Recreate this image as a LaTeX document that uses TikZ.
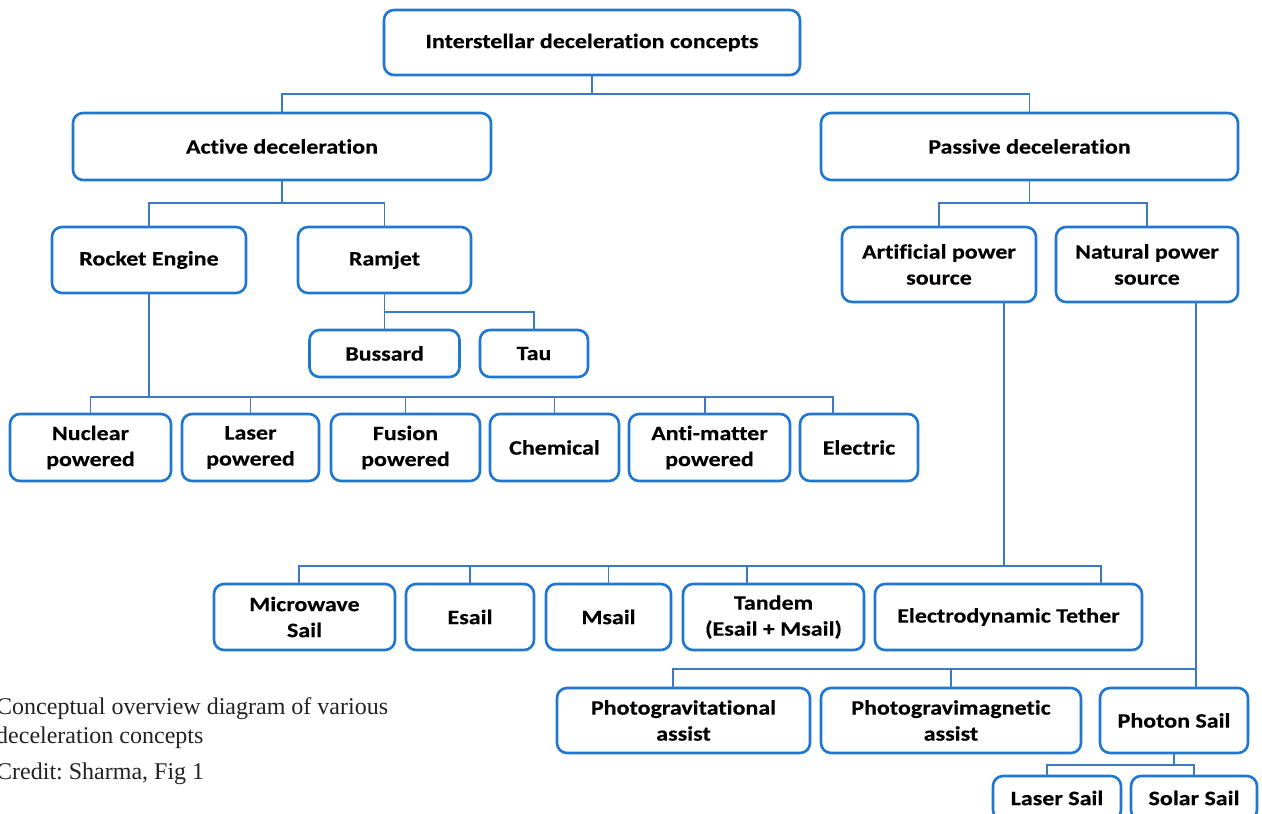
\documentclass[tikz,border=0pt]{standalone}
\usepackage{fontspec}
\setmainfont{Carlito}
\newfontfamily\boxfont{Carlito}[FakeStretch=1.17, Ligatures=NoCommon, BoldFeatures={FakeBold=0.3}]
\newfontfamily\capfont{Liberation Serif}
\definecolor{boxblue}{RGB}{31,119,210}
\definecolor{lineblue}{RGB}{60,122,200}
\definecolor{capgray}{RGB}{34,34,34}
\frenchspacing
\begin{document}
\begin{tikzpicture}[x=1pt,y=-1pt,
  box/.style={draw=boxblue, line width=2.6pt, rounded corners=10pt, fill=white,
    inner sep=0pt, outer sep=0pt, align=center, text=black,
    font=\boxfont\bfseries\fontsize{20.5}{26}\selectfont},
  link/.style={draw=lineblue, line width=1.3pt},
  captxt/.style={inner sep=0pt, anchor=base west, text=capgray,
    font=\capfont\fontsize{24}{29}\selectfont}]
\useasboundingbox (0,0) rectangle (1262,814);
\clip (0,0) rectangle (1262,814);

% level 0-1
\node[box, minimum width=416pt, minimum height=65pt] (top) at (592,42.5) {Interstellar deceleration concepts};
\node[box, minimum width=418pt, minimum height=67pt] (active) at (282,146.5) {Active deceleration};
\node[box, minimum width=417pt, minimum height=67pt] (passive) at (1029.5,146.5) {Passive deceleration};
% level 2
\node[box, minimum width=194pt, minimum height=66pt] (rocket) at (149,260) {Rocket Engine};
\node[box, minimum width=173pt, minimum height=66pt] (ramjet) at (384.5,260) {Ramjet};
\node[box, minimum width=194pt, minimum height=75pt] (artificial) at (939,264.5) {Artificial power\\source};
\node[box, minimum width=182pt, minimum height=75pt] (natural) at (1147,264.5) {Natural power\\source};
% ramjet children
\node[box, minimum width=150pt, minimum height=47pt] (bussard) at (384.5,353.5) {Bussard};
\node[box, minimum width=108pt, minimum height=47pt] (tau) at (534,353.5) {Tau};
% rocket children
\node[box, minimum width=161pt, minimum height=67pt] (nuclear) at (90.5,447.5) {Nuclear\\powered};
\node[box, minimum width=137pt, minimum height=67pt] (laser) at (250.5,447.5) {Laser\\powered};
\node[box, minimum width=149pt, minimum height=67pt] (fusion) at (405.5,447.5) {Fusion\\powered};
\node[box, minimum width=129pt, minimum height=67pt] (chemical) at (554.5,447.5) {Chemical};
\node[box, minimum width=161pt, minimum height=67pt] (anti) at (709.5,447.5) {Anti-matter\\powered};
\node[box, minimum width=118pt, minimum height=67pt] (electric) at (859,447.5) {Electric};
% artificial children
\node[box, minimum width=181pt, minimum height=66pt] (microwave) at (304.5,617) {Microwave\\Sail};
\node[box, minimum width=128pt, minimum height=66pt] (esail) at (470,617) {Esail};
\node[box, minimum width=125pt, minimum height=66pt] (msail) at (608.5,617) {Msail};
\node[box, minimum width=181pt, minimum height=66pt] (tandem) at (773.5,617) {Tandem\\(Esail + Msail)};
\node[box, minimum width=267pt, minimum height=66pt] (electro) at (1008.5,617) {Electrodynamic Tether};
% natural children
\node[box, minimum width=253pt, minimum height=65pt] (photograv) at (683.5,720.5) {Photogravitational\\assist};
\node[box, minimum width=260pt, minimum height=65pt] (photomag) at (951,720.5) {Photogravimagnetic\\assist};
\node[box, minimum width=148pt, minimum height=65pt] (photon) at (1174,720.5) {Photon Sail};
% photon children
\node[box, minimum width=128pt, minimum height=44pt] (lasersail) at (1057,798) {Laser Sail};
\node[box, minimum width=126pt, minimum height=44pt] (solarsail) at (1194,798) {Solar Sail};

% connectors
\coordinate (j1) at (592,94);
\draw[link] (top.south) -- (j1);
\draw[link] (active.north) |- (j1) -| (passive.north);

\coordinate (j2) at (282,203);
\draw[link] (active.south) -- (j2);
\draw[link] (rocket.north) |- (j2) -| (ramjet.north);

\coordinate (j3) at (1029.5,203);
\draw[link] (passive.south) -- (j3);
\draw[link] (artificial.north) |- (j3) -| (natural.north);

\coordinate (j4) at (384.5,312);
\draw[link] (ramjet.south) -- (j4);
\draw[link] (bussard.north) |- (j4) -| (tau.north);

\coordinate (j5) at (149,397);
\draw[link] (rocket.south) -- (j5);
\draw[link] (nuclear.north) |- (j5) -| ([xshift=-26pt]electric.north);
\draw[link] (laser.north) -- (laser.north |- j5);
\draw[link] (fusion.north) -- (fusion.north |- j5);
\draw[link] (chemical.north) -- (chemical.north |- j5);
\draw[link] ([xshift=-4.5pt]anti.north) -- ([xshift=-4.5pt]anti.north |- j5);

\coordinate (j6) at (1004,566);
\draw[link] ([xshift=65pt]artificial.south) -- (j6);
\draw[link] ([xshift=-5.5pt]microwave.north) |- (j6) -| ([xshift=92.5pt]electro.north);
\draw[link] (esail.north) -- (esail.north |- j6);
\draw[link] (msail.north) -- (msail.north |- j6);
\draw[link] ([xshift=-26.5pt]tandem.north) -- ([xshift=-26.5pt]tandem.north |- j6);

\draw[link] ([xshift=49pt]natural.south) -- ([xshift=22pt]photon.north);
\coordinate (j7) at (1196,669);
\draw[link] ([xshift=-10.5pt]photograv.north) |- (j7);
\draw[link] (photomag.north) -- (photomag.north |- j7);

\coordinate (j8) at (1174,765);
\draw[link] (photon.south) -- (j8);
\draw[link] ([xshift=-10pt]lasersail.north) |- (j8) -| (solarsail.north);

% caption
\node[captxt] (cap1) at (-4,714) {Conceptual overview diagram of various};
\node[captxt] (cap2) at (-4,743) {deceleration concepts};
\node[captxt] (cap3) at (-4,779) {Credit: Sharma, Fig 1};
\end{tikzpicture}
\end{document}
